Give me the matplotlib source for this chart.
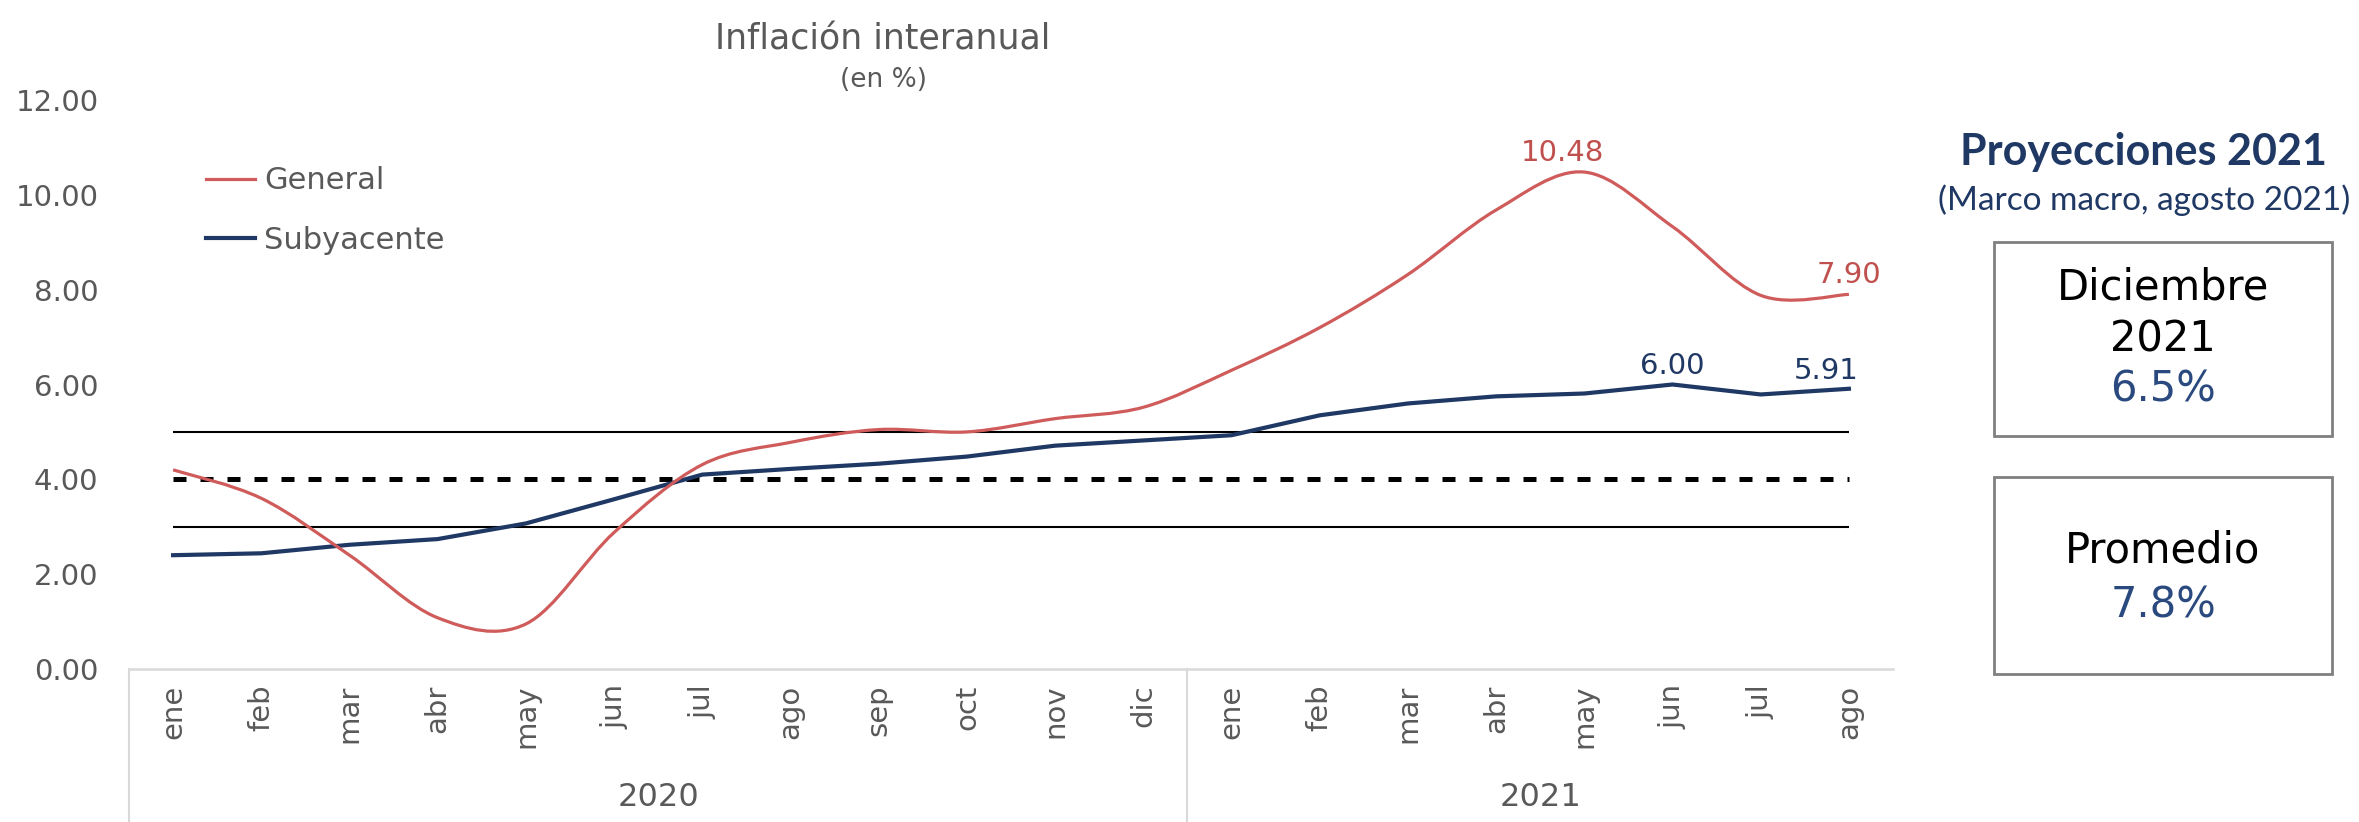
import matplotlib
matplotlib.use("Agg")
import matplotlib.pyplot as plt
from matplotlib.path import Path
from matplotlib.patches import PathPatch, Rectangle
from matplotlib.lines import Line2D
import matplotlib.transforms as mtransforms
import numpy as np

# data
meses = ["ene", "feb", "mar", "abr", "may", "jun", "jul", "ago", "sep", "oct", "nov", "dic",
         "ene", "feb", "mar", "abr", "may", "jun", "jul", "ago"]
anios = ["2020", "2021"]
meses_por_anio = [12, 8]
general = [4.20, 3.60, 2.40, 1.08, 0.95, 2.88, 4.31, 4.78, 5.05, 5.00, 5.28, 5.52,
           6.30, 7.20, 8.32, 9.68, 10.48, 9.33, 7.88, 7.90]
subyacente = [2.40, 2.44, 2.62, 2.74, 3.07, 3.58, 4.10, 4.22, 4.33, 4.48, 4.71, 4.82,
              4.93, 5.35, 5.60, 5.75, 5.81, 6.00, 5.79, 5.91]
meta = 4.0
rango = 1.0
etiquetas_general = {16: "10.48", 19: "7.90"}
etiquetas_sub = {17: "6.00", 19: "5.91"}
proy_dic = "6.5%"
proy_prom = "7.8%"

ROJO = "#CF5B5B"
ROJO_TXT = "#C0504D"
AZUL = "#1F3864"
GRIS = "#595959"
GRIS_EJE = "#D9D9D9"
W, H = 2359, 822


def smooth_path(xs, ys):
    # Excel-like smoothed line: cubic bezier through every point
    p = np.column_stack([xs, ys]).astype(float)
    ext = np.vstack([p[0], p, p[-1]])
    verts = [tuple(p[0])]
    codes = [Path.MOVETO]
    for i in range(len(p) - 1):
        p0, p1, p2, p3 = ext[i], ext[i + 1], ext[i + 2], ext[i + 3]
        c1 = p1 + (p2 - p0) / 6
        c2 = p2 - (p3 - p1) / 6
        verts += [tuple(c1), tuple(c2), tuple(p2)]
        codes += [Path.CURVE4] * 3
    return Path(verts, codes)


plt.rcParams["font.family"] = ["DejaVu Sans"]
fig = plt.figure(figsize=(W / 100, H / 100), dpi=100)
ax = fig.add_axes([129 / W, (H - 669) / H, (1893 - 129) / W, 569 / H])

x = np.arange(len(meses))

# target band
ax.hlines([meta - rango, meta + rango], x[0], x[-1], colors="black", lw=1.5, zorder=1)
ax.hlines(meta, x[0], x[-1], colors="black", lw=3.6, linestyles=(0, (2.6, 2.8)), zorder=1)

ax.plot(x, subyacente, color=AZUL, lw=3.0, solid_joinstyle="round", zorder=3)
ax.add_patch(PathPatch(smooth_path(x, general), facecolor="none", edgecolor=ROJO,
                       lw=2.3, zorder=4))

for i, t in etiquetas_general.items():
    dx = -16 if i != len(x) - 1 else 0
    ax.annotate(t, (x[i], general[i]), xytext=(dx, 14), textcoords="offset points",
                ha="center", va="center", fontsize=21, color=ROJO_TXT)
for i, t in etiquetas_sub.items():
    dx = -16 if i == len(x) - 1 else 0
    ax.annotate(t, (x[i], subyacente[i]), xytext=(dx, 13), textcoords="offset points",
                ha="center", va="center", fontsize=21, color=AZUL)

ax.set_xlim(-0.5, len(meses) - 0.5)
ax.set_ylim(0, 12)
ax.set_yticks(np.arange(0, 13, 2))
ax.set_yticklabels([f"{v:.2f}" for v in np.arange(0, 13, 2)])
ax.set_xticks(x)
ax.set_xticklabels(meses, rotation=90)
ax.tick_params(axis="y", length=0, pad=22, labelsize=21, labelcolor=GRIS)
ax.tick_params(axis="x", length=0, pad=11, labelsize=21, labelcolor=GRIS)
for s in ["top", "right", "left"]:
    ax.spines[s].set_visible(False)
ax.spines["bottom"].set_color(GRIS_EJE)
ax.spines["bottom"].set_linewidth(1.8)

# year grouping under the month labels
trans = mtransforms.blended_transform_factory(ax.transData, ax.transAxes)
inicio = -0.5
for anio, n in zip(anios, meses_por_anio):
    ax.axvline(inicio, ymin=-0.27, ymax=0, color=GRIS_EJE, lw=1.5, clip_on=False)
    ax.text(inicio + n / 2, -0.225, anio, transform=trans, ha="center", va="center",
            fontsize=23, color=GRIS)
    inicio += n

handles = [Line2D([], [], color=ROJO, lw=2.3), Line2D([], [], color=AZUL, lw=3.0)]
ax.legend(handles, ["General", "Subyacente"], loc="upper left",
          bbox_to_anchor=(191 / W, 1 - 151 / H), bbox_transform=fig.transFigure,
          frameon=False, fontsize=22, handlelength=1.6, handletextpad=0.3,
          labelspacing=1.0, borderpad=0, labelcolor=GRIS)

fig.text(883 / W, 1 - 50 / H, "Inflación interanual", ha="center", va="baseline",
         fontsize=25, color=GRIS)
fig.text(883 / W, 1 - 87 / H, "(en %)", ha="center", va="baseline", fontsize=19, color=GRIS)

# projections panel
fig.text(2144 / W, 1 - 165 / H, "Proyecciones 2021", ha="center", va="baseline",
         fontsize=31, fontweight="bold", color=AZUL, family=["Lato", "DejaVu Sans"])
fig.text(2144 / W, 1 - 210 / H, "(Marco macro, agosto 2021)", ha="center", va="baseline",
         fontsize=24, color=AZUL, family=["Lato", "DejaVu Sans"])

for top, bottom in [(242, 436), (477, 674)]:
    fig.add_artist(Rectangle((1994 / W, 1 - bottom / H), (2332 - 1994) / W, (bottom - top) / H,
                             transform=fig.transFigure, facecolor="none",
                             edgecolor="#808080", lw=2))

cx = 2163 / W
fig.text(cx, 1 - 300 / H, "Diciembre", ha="center", va="baseline", fontsize=30, color="black")
fig.text(cx, 1 - 352 / H, "2021", ha="center", va="baseline", fontsize=30, color="black")
fig.text(cx, 1 - 402 / H, proy_dic, ha="center", va="baseline", fontsize=30, color="#2A4A7F")
fig.text(cx, 1 - 562 / H, "Promedio", ha="center", va="baseline", fontsize=30, color="black")
fig.text(cx, 1 - 618 / H, proy_prom, ha="center", va="baseline", fontsize=30, color="#2A4A7F")

fig.savefig("out.png", dpi=100, facecolor="white")
